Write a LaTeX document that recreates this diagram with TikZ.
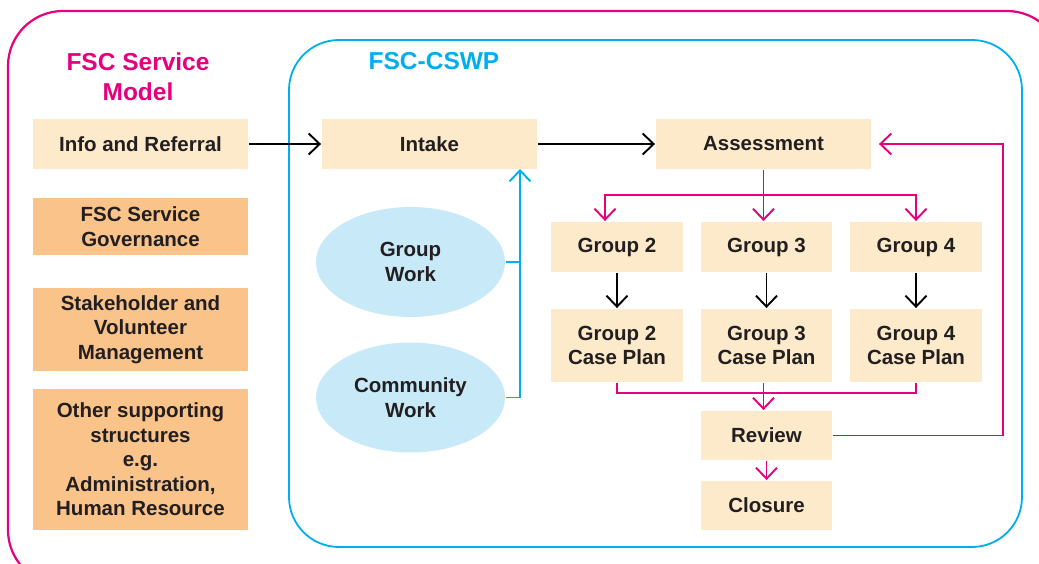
\documentclass[tikz,border=0pt]{standalone}
\usepackage{fontspec}
\setmainfont{Liberation Sans}
\usetikzlibrary{arrows.meta,shapes.geometric,positioning}
\definecolor{fscpink}{HTML}{E5007E}
\definecolor{fscblue}{HTML}{00AEEF}
\definecolor{paleorange}{HTML}{FDEACB}
\definecolor{deeporange}{HTML}{F9C38A}
\definecolor{paleblue}{HTML}{C8E9F8}
\definecolor{darktext}{HTML}{231F20}

\begin{document}
\begin{tikzpicture}[x=1pt,y=-1pt,line width=1.9pt,
  box/.style={rectangle,fill=paleorange,minimum width=#1,minimum height=50,inner sep=0pt,align=center,text=darktext,font=\bfseries\fontsize{20.5}{24.5}\selectfont},
  box/.default=215,
  support/.style={box,fill=deeporange},
  work/.style={ellipse,fill=paleblue,minimum width=189,minimum height=110,inner sep=0pt,align=center,text=darktext,font=\bfseries\fontsize{20.5}{24.5}\selectfont},
  title/.style={align=center,font=\bfseries\fontsize{24.5}{30}\selectfont},
  arr/.style={-{Straight Barb[length=11pt,width=21pt]}}]
\useasboundingbox (0,0) rectangle (1039,564);
\clip (0,0) rectangle (1039,564);

% frames
\draw [fscpink,line width=2.2pt,rounded corners=55] (8,11) rectangle (1062,585);
\draw [fscblue,line width=1.8pt,rounded corners=50] (289,40) rectangle (1022,547);
\node [title,text=fscpink] (modeltitle) at (138,77) {FSC Service\\Model};
\node [title,text=fscblue] (cswptitle) at (434,61) {FSC-CSWP};

% service model column
\node [box] (info) at (140.5,144) {Info and Referral};
\node [support,minimum height=57] (gov) at (140.5,226.5) {FSC Service\\Governance};
\node [support,minimum height=83] (stake) at (140.5,329.5) {Stakeholder and\\Volunteer\\Management};
\node [support,minimum height=141] (other) at (140.5,459.5) {Other supporting\\structures\\e.g.\\Administration,\\Human Resource};

% CSWP flow
\node [box] (intake) at (429.5,144) {Intake};
\node [box] (assess) at (763.5,144) {Assessment};
\node [work] (gwork) at (410.5,262) {Group\\Work};
\node [work] (cwork) at (410.5,397.5) {Community\\Work};
\node [box=132] (g2) at (617,247) {Group 2};
\node [box=131] (g3) at (766.5,247) {Group 3};
\node [box=132] (g4) at (916,247) {Group 4};
\node [box=132,minimum height=73] (cp2) at (617,345.5) {Group 2\\Case Plan};
\node [box=131,minimum height=73] (cp3) at (766.5,345.5) {Group 3\\Case Plan};
\node [box=132,minimum height=73] (cp4) at (916,345.5) {Group 4\\Case Plan};
\node [box=131,minimum height=49] (review) at (766.5,435.5) {Review};
\node [box=131,minimum height=49] (closure) at (766.5,505.5) {Closure};

\coordinate (injoin) at (520,169);
\coordinate (fork) at (763.5,195);
\coordinate (merge) at (763.5,393);
\coordinate (loop) at (1003,144);

\draw [arr] (info) -- (intake);
\draw [arr] (intake) -- (assess);
\draw [fscblue] (gwork.east) -- (gwork.east -| injoin);
\draw [fscblue,arr] (cwork.east) -| (injoin);

\draw [fscpink,arr] (assess.south) -- (assess.south |- g3.north);
\draw [fscpink,arr] (fork) -| ([xshift=-12pt]g2.north);
\draw [fscpink,arr] (fork) -| (g4.north);
\draw [arr] (g2) -- (cp2);
\draw [arr] (g3) -- (cp3);
\draw [arr] (g4) -- (cp4);
\draw [fscpink] (cp2.south) |- (merge) -| (cp4.south);
\draw [fscpink,arr] (cp3.south -| merge) -- (review.north -| merge);
\draw [fscpink,arr] (review) -- (closure);
\draw [fscpink,arr] (review.east) -| (loop) -- ([xshift=7pt]assess.east);
\end{tikzpicture}
\end{document}
